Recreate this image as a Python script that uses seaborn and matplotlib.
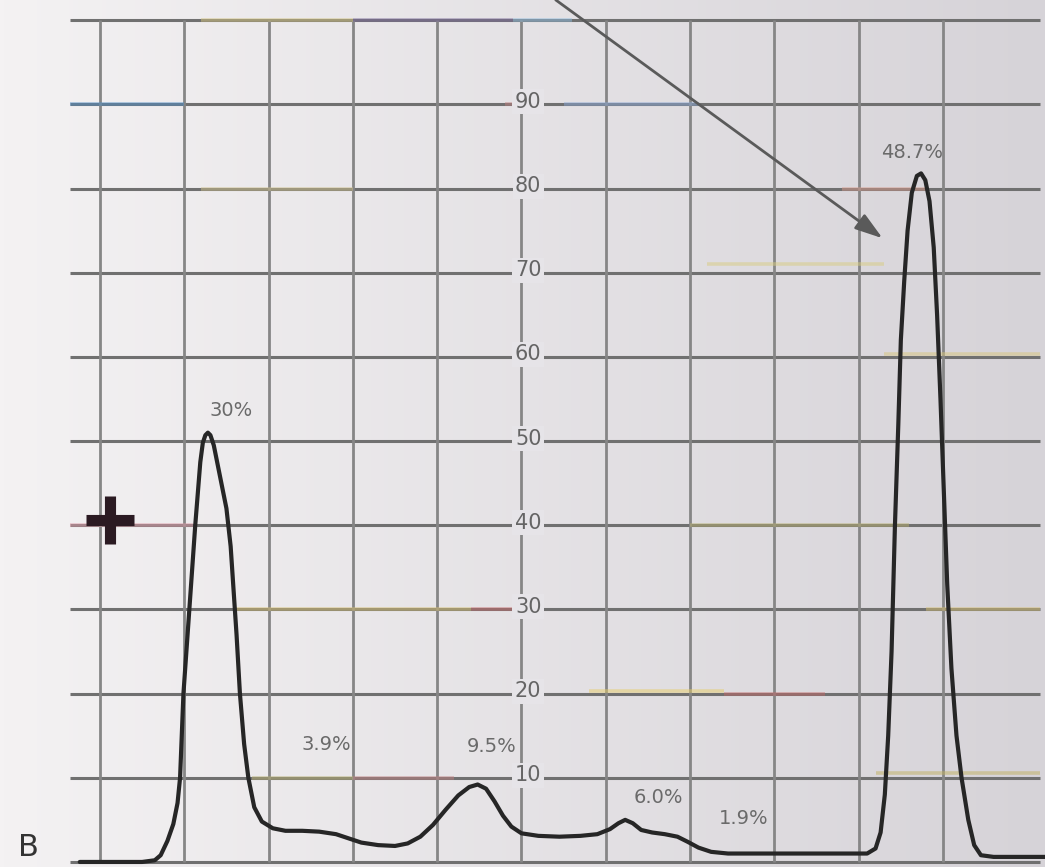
# densitometry trace on chart paper
import numpy as np
import pandas as pd
import seaborn as sns
import matplotlib.pyplot as plt

# %%
# data (x in grid cells, y in % of full scale)
trace_x = [0.76, 1.50, 1.65, 1.72, 1.80, 1.87, 1.92, 1.95, 1.99, 2.06, 2.13, 2.19, 2.22, 2.25,
           2.28, 2.31, 2.35, 2.39, 2.44, 2.50, 2.55, 2.58, 2.62, 2.66, 2.71, 2.76, 2.83, 2.92,
           3.05, 3.20, 3.40, 3.60, 3.80, 3.95, 4.10, 4.30, 4.50, 4.65, 4.80, 4.95, 5.10, 5.25,
           5.38, 5.48, 5.58, 5.68, 5.78, 5.88, 6.00, 6.20, 6.45, 6.70, 6.90, 7.05, 7.15, 7.23,
           7.32, 7.42, 7.55, 7.70, 7.85, 7.97, 8.10, 8.25, 8.45, 9.00, 9.60, 10.10, 10.20,
           10.26, 10.31, 10.35, 10.39, 10.43, 10.47, 10.50, 10.54, 10.58, 10.63, 10.69, 10.74,
           10.79, 10.84, 10.89, 10.93, 10.97, 11.01, 11.05, 11.10, 11.16, 11.22, 11.30, 11.37,
           11.45, 11.60, 12.25]
trace_y = [0.0, 0.0, 0.2, 0.8, 2.5, 4.5, 7.0, 10.0, 20.0, 30.0, 40.0, 47.5, 49.8, 50.7,
           51.0, 50.7, 49.5, 47.5, 45.0, 42.0, 37.5, 33.0, 27.0, 20.0, 14.0, 10.0, 6.5, 4.8,
           4.0, 3.7, 3.7, 3.6, 3.3, 2.8, 2.3, 2.0, 1.9, 2.2, 3.0, 4.4, 6.2, 7.9,
           8.9, 9.2, 8.7, 7.2, 5.5, 4.2, 3.4, 3.1, 3.0, 3.1, 3.3, 3.9, 4.6, 5.0,
           4.6, 3.8, 3.5, 3.3, 3.0, 2.4, 1.7, 1.2, 1.0, 1.0, 1.0, 1.0, 1.6,
           3.5, 8.0, 15.0, 25.0, 40.0, 52.0, 62.0, 69.0, 75.0, 79.5, 81.5, 81.8,
           81.0, 78.5, 73.0, 65.0, 55.0, 44.0, 33.0, 23.0, 15.0, 10.0, 5.0, 2.0,
           0.8, 0.6, 0.6]

scale_values = [90, 80, 70, 60, 50, 40, 30, 20, 10]

peak_labels = ['30%', '3.9%', '9.5%', '6.0%', '1.9%', '48.7%']
peak_label_x = [2.55, 3.68, 5.64, 7.62, 8.63, 10.63]
peak_label_y = [53.6, 13.9, 13.7, 7.7, 5.2, 84.3]

df = pd.DataFrame({'x': trace_x, 'y': trace_y})

# %%
sns.set_theme(style='white')
plt.rcParams['font.family'] = ['DejaVu Sans']

fig = plt.figure(figsize=(10.45, 8.67), dpi=100)
ax = fig.add_axes([0, 0, 1, 1])
xlim = (-0.186, 12.21)
ylim = (-0.6, 102.4)

# paper background, whiter on the left
grad = np.linspace(0, 1, 256)[None, :]
bg = np.zeros((1, 256, 3))
left = np.array([244, 242, 243]) / 255
right = np.array([214, 211, 216]) / 255
bg[0] = left + (right - left) * grad.T
ax.imshow(bg, extent=[xlim[0], xlim[1], ylim[0], ylim[1]], aspect='auto', zorder=0)

# grid
for v in range(0, 101, 10):
    ax.hlines(v, 0.64, 12.15, color='#707070', lw=2.2, zorder=1)
ax.vlines(range(1, 12), 0, 100, color='#868686', lw=2.0, zorder=1)

# coloured tints of the printed paper
tints = [
    (100, 2.2, 4.0, '#d4c47e'), (100, 4.0, 5.9, '#7a6a9a'), (100, 5.9, 6.6, '#8fbde0'),
    (90, 0.64, 2.0, '#4f8fc8'), (90, 6.5, 8.1, '#8aa8d8'), (90, 5.8, 6.2, '#c08080'),
    (80, 2.2, 4.0, '#cfc08a'), (80, 9.8, 10.8, '#d89a8a'),
    (71, 8.2, 10.3, '#d8cc80'),
    (60.3, 10.3, 12.15, '#d6c47a'),
    (40, 0.64, 2.1, '#e09aa8'), (40, 8.0, 10.6, '#b8b070'),
    (30, 2.6, 5.4, '#d8c070'), (30, 5.4, 6.0, '#c86a6a'), (30, 10.8, 12.15, '#d8c070'),
    (20.3, 6.8, 8.4, '#e6cc66'), (20, 8.4, 9.6, '#c46a6a'),
    (10, 2.8, 4.0, '#b8b070'), (10, 4.0, 5.2, '#c08080'), (10.6, 10.2, 12.15, '#c0b060'),
]
for yv, x0, x1, c in tints:
    ax.hlines(yv, x0, x1, color=c, lw=2.6, alpha=0.5, zorder=1.5)

# centre scale
for v in scale_values:
    ax.text(6.08, v + 0.3, str(v), ha='center', va='center', fontsize=15, color='#656565',
            zorder=3, bbox=dict(boxstyle='square,pad=0.12', fc='#e6e4e8', ec='none'))

# trace
sns.lineplot(data=df, x='x', y='y', sort=False, estimator=None, color='#262626',
             lw=3.0, ax=ax, zorder=4)

# percentages
for lab, lx, ly in zip(peak_labels, peak_label_x, peak_label_y):
    ax.text(lx, ly, lab, ha='center', va='center', fontsize=14, color='#6a6a6a', zorder=5)

# arrow pointing at the big peak
ax.annotate('', xy=(10.31, 73.9), xytext=(6.38, 102.6),
            arrowprops=dict(arrowstyle='-|>,head_length=1.4,head_width=0.45',
                            color='#5a5a5a', lw=2.0), zorder=5)

# application point and panel letter
ax.plot([1.12], [40.6], marker='+', ms=34, mew=8, color='#2b1a22', zorder=5)
ax.text(0.15, 1.7, 'B', ha='center', va='center', fontsize=22, color='#333333', zorder=5)

ax.set_xlim(xlim)
ax.set_ylim(ylim)
ax.set_xlabel('')
ax.set_ylabel('')
ax.axis('off')

fig.savefig('out.png', dpi=100)
